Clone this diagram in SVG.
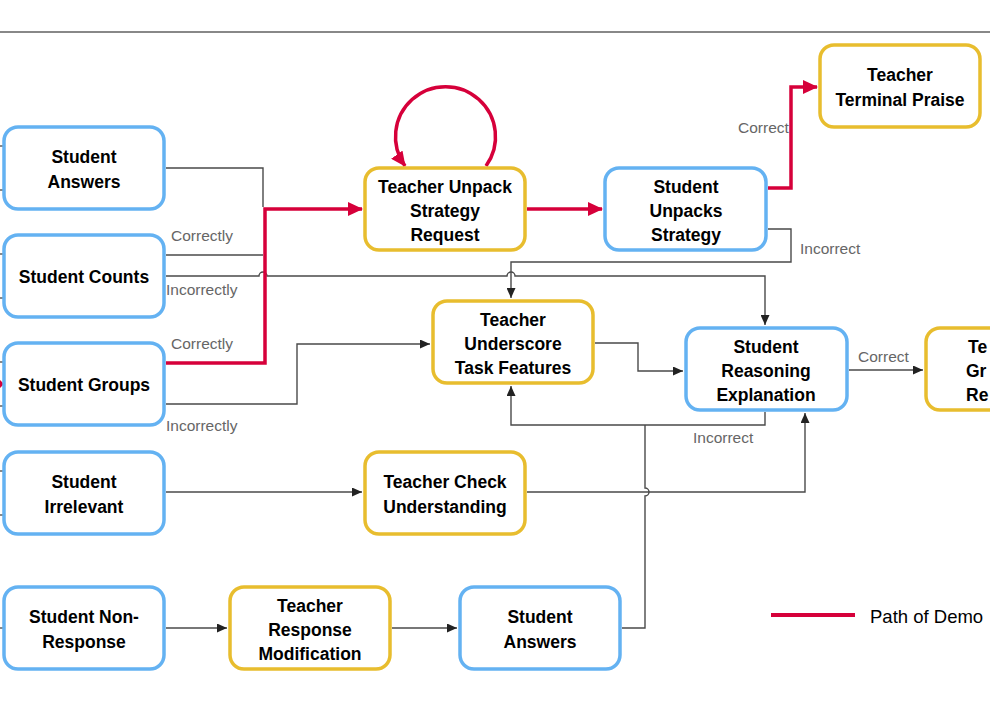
<svg xmlns="http://www.w3.org/2000/svg" width="990" height="715" viewBox="0 0 990 715">
<style>
.box{fill:#fff;stroke-width:3.5}
.s{stroke:#64B2F2}
.t{stroke:#E8BD2E}
.nt{font-family:"Liberation Sans",Arial,sans-serif;font-weight:bold;font-size:17.5px;fill:#000;text-anchor:middle}
.lbl{font-family:"Liberation Sans",Arial,sans-serif;font-size:15.5px;fill:#666}
.ln{fill:none;stroke:#4a4a4a;stroke-width:1.4}
.rd{fill:none;stroke:#D6003A;stroke-width:3.5}
</style>
<defs>
<marker id="ab" markerUnits="userSpaceOnUse" markerWidth="10" markerHeight="9" refX="10" refY="4.5" orient="auto"><path d="M0,0 L10,4.5 L0,9 Z" fill="#222"/></marker>
<marker id="ar" markerUnits="userSpaceOnUse" markerWidth="15" markerHeight="14" refX="14" refY="7" orient="auto"><path d="M0,0 L15,7 L0,14 Z" fill="#D6003A"/></marker>
</defs>
<rect width="990" height="715" fill="#fff"/>
<line x1="0" y1="32" x2="990" y2="32" stroke="#888" stroke-width="2"/>

<g id="connectors">
<g stroke="#555" stroke-width="1.4">
<line x1="0" y1="146" x2="3" y2="146"/><line x1="0" y1="190" x2="3" y2="190"/>
<line x1="0" y1="254" x2="3" y2="254"/><line x1="0" y1="298" x2="3" y2="298"/>
<line x1="0" y1="362" x2="3" y2="362"/><line x1="0" y1="406" x2="3" y2="406"/>
<line x1="0" y1="471" x2="3" y2="471"/><line x1="0" y1="515" x2="3" y2="515"/>
<line x1="0" y1="628" x2="3" y2="628"/>
</g>
<path d="M0,380 L4,384 L0,388 Z" fill="#D6003A"/>
<path class="ln" d="M166,168 H263 V207"/>
<path class="ln" d="M166,255 H263"/>
<path class="ln" d="M166,276 H259 A4,4 0 0 1 267,276 H507 A4,4 0 0 1 515,276 H765 V325" marker-end="url(#ab)"/>
<path class="ln" d="M166,404 H297 V344 H430" marker-end="url(#ab)"/>
<path class="ln" d="M768,229 H791 V262 H511 V298" marker-end="url(#ab)"/>
<path class="ln" d="M595,343 H638 V371 H683" marker-end="url(#ab)"/>
<path class="ln" d="M765,412 V425 H511 V386" marker-end="url(#ab)"/>
<path class="ln" d="M849,370 H923" marker-end="url(#ab)"/>
<path class="ln" d="M166,492 H362" marker-end="url(#ab)"/>
<path class="ln" d="M527,492 H805 V413" marker-end="url(#ab)"/>
<path class="ln" d="M622,628 H645 V496 A4,4 0 0 0 645,488 V425"/>
<path class="ln" d="M166,628 H227" marker-end="url(#ab)"/>
<path class="ln" d="M392,628 H457" marker-end="url(#ab)"/>
<path class="rd" d="M166,363 H265 V209 H362" marker-end="url(#ar)"/>
<path class="rd" d="M527,209 H602" marker-end="url(#ar)"/>
<path class="rd" d="M486,166 A50,50 0 1 0 405,166" marker-end="url(#ar)"/>
<path class="rd" d="M768,188 H791 V87 H817" marker-end="url(#ar)"/>
<text class="lbl" x="171" y="241">Correctly</text>
<text class="lbl" x="166" y="295">Incorrectly</text>
<text class="lbl" x="171" y="349">Correctly</text>
<text class="lbl" x="166" y="431">Incorrectly</text>
<text class="lbl" x="738" y="133">Correct</text>
<text class="lbl" x="800" y="254">Incorrect</text>
<text class="lbl" x="693" y="443">Incorrect</text>
<text class="lbl" x="858" y="362">Correct</text>
</g>

<g id="student-answers-1"><rect class="box s" x="4" y="127" width="160" height="82" rx="14"/><text class="nt" x="84" y="163">Student</text><text class="nt" x="84" y="188">Answers</text></g>
<g id="student-counts"><rect class="box s" x="4" y="235" width="160" height="82" rx="14"/><text class="nt" x="84" y="283">Student Counts</text></g>
<g id="student-groups"><rect class="box s" x="4" y="343" width="160" height="82" rx="14"/><text class="nt" x="84" y="391">Student Groups</text></g>
<g id="student-irrelevant"><rect class="box s" x="4" y="452" width="160" height="82" rx="14"/><text class="nt" x="84" y="488">Student</text><text class="nt" x="84" y="513">Irrelevant</text></g>
<g id="student-non-response"><rect class="box s" x="4" y="587" width="160" height="82" rx="14"/><text class="nt" x="84" y="623">Student Non-</text><text class="nt" x="84" y="648">Response</text></g>
<g id="teacher-unpack"><rect class="box t" x="365" y="168" width="160" height="82" rx="14"/><text class="nt" x="445" y="193">Teacher Unpack</text><text class="nt" x="445" y="217">Strategy</text><text class="nt" x="445" y="241">Request</text></g>
<g id="student-unpacks"><rect class="box s" x="605" y="168" width="161" height="82" rx="14"/><text class="nt" x="686" y="193">Student</text><text class="nt" x="686" y="217">Unpacks</text><text class="nt" x="686" y="241">Strategy</text></g>
<g id="teacher-terminal-praise"><rect class="box t" x="820" y="45" width="160" height="82" rx="14"/><text class="nt" x="900" y="81">Teacher</text><text class="nt" x="900" y="106">Terminal Praise</text></g>
<g id="teacher-underscore"><rect class="box t" x="433" y="301" width="160" height="82" rx="14"/><text class="nt" x="513" y="326">Teacher</text><text class="nt" x="513" y="350">Underscore</text><text class="nt" x="513" y="374">Task Features</text></g>
<g id="student-reasoning"><rect class="box s" x="686" y="328" width="161" height="82" rx="14"/><text class="nt" x="766" y="353">Student</text><text class="nt" x="766" y="377">Reasoning</text><text class="nt" x="766" y="401">Explanation</text></g>
<g id="teacher-clipped"><rect class="box t" x="926" y="328" width="160" height="82" rx="14"/><text class="nt" x="968" y="353" style="text-anchor:start">Te</text><text class="nt" x="966" y="377" style="text-anchor:start">Gr</text><text class="nt" x="966" y="401" style="text-anchor:start">Re</text></g>
<g id="teacher-check"><rect class="box t" x="365" y="452" width="160" height="82" rx="14"/><text class="nt" x="445" y="488">Teacher Check</text><text class="nt" x="445" y="513">Understanding</text></g>
<g id="teacher-response-modification"><rect class="box t" x="230" y="587" width="160" height="82" rx="14"/><text class="nt" x="310" y="612">Teacher</text><text class="nt" x="310" y="636">Response</text><text class="nt" x="310" y="660">Modification</text></g>
<g id="student-answers-2"><rect class="box s" x="460" y="587" width="160" height="82" rx="14"/><text class="nt" x="540" y="623">Student</text><text class="nt" x="540" y="648">Answers</text></g>

<g id="legend"><line x1="771" y1="615" x2="855" y2="615" stroke="#D6003A" stroke-width="4"/><text x="870" y="623" font-family="Liberation Sans, Arial, sans-serif" font-size="18.5" fill="#000">Path of Demo</text></g>
</svg>
